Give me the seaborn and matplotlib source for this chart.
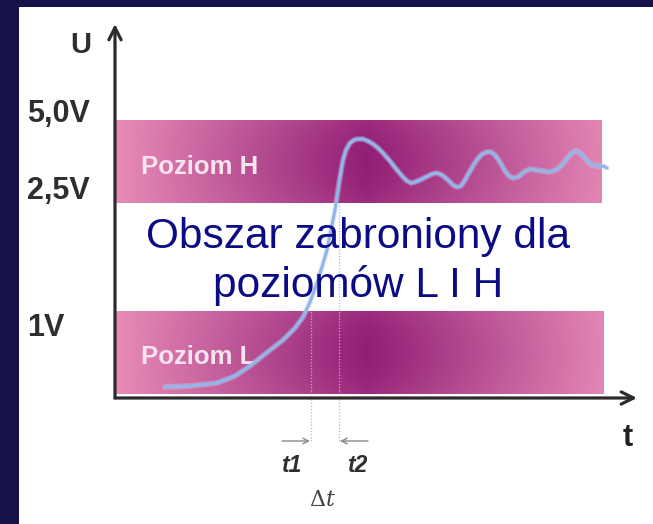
import numpy as np
import pandas as pd
import matplotlib
matplotlib.use("Agg")
import matplotlib.pyplot as plt
import seaborn as sns

# Signal rising from level L to level H (time units, voltage units of the sketch)
t_values = [50, 75, 102, 120, 135, 150, 168, 180, 188, 195, 202, 207, 212, 216, 220,
            223, 225, 228, 231, 235, 239, 243, 248, 253, 258, 263, 268,
            275, 282, 288, 292, 296, 300, 305, 311, 317, 322, 327, 333, 338, 342, 346,
            350, 355, 361, 367, 372, 376, 380, 385, 390, 394, 398, 403, 409, 415, 421,
            428, 435, 441, 446, 451, 456, 460, 464, 468, 473, 478, 483, 488, 492]
u_values = [11, 12, 15, 22, 32, 44, 58, 70, 81, 96, 115, 131, 148, 168, 188,
            208, 221, 238, 248, 255, 258, 259, 259, 257, 254, 250, 245,
            237, 228, 221, 217, 215, 216, 218, 221, 224, 225, 223, 218, 213, 211, 212,
            218, 227, 237, 244, 246, 246, 243, 236, 227, 222, 220, 221, 226, 229, 228,
            227, 226, 228, 232, 238, 244, 247, 246, 242, 236, 233, 232, 232, 230]

# Logic level bands
band_names = ["Poziom H", "Poziom L"]
band_bottom = [195, 4]
band_top = [278, 87]
band_end = [487, 489]

# Voltage labels on the U axis
level_labels = ["5,0V", "2,5V", "1V"]
level_positions = [284, 207, 70]

# Switching instants
t1_pos, t2_pos = 196, 224

sns.set_theme(style="white")
plt.rcParams["font.family"] = ["Liberation Sans", "DejaVu Sans"]

fig = plt.figure(figsize=(6.53, 5.24), dpi=100, facecolor="#15134a")

# White sheet behind the diagram
bg = fig.add_axes([19 / 653, 0, 1 - 19 / 653, 517 / 524])
bg.axis("off")
bg.add_patch(plt.Rectangle((0, 0), 1, 1, transform=bg.transAxes,
                           facecolor="white", edgecolor="none"))

ax = fig.add_axes([0, 0, 1, 1])
ax.patch.set_alpha(0)

# Gradient fill for the level bands: pink at the edges, deep magenta in the middle
pink = np.array([0.91, 0.55, 0.72])
dark = np.array([0.57, 0.12, 0.46])
for b0, b1, end in zip(band_bottom, band_top, band_end):
    nx, ny = 400, 60
    xs = np.linspace(0, end, nx)
    center = 252
    f = np.clip(np.abs(xs - center) / max(center, end - center), 0, 1) ** 1.05
    v = np.linspace(-1, 1, ny)[:, None]
    shade = f[None, :] + 0.12 * (v ** 2) * (1 - f[None, :])
    shade = np.clip(shade, 0, 1)
    img = dark + (pink - dark) * shade[..., None]
    ax.imshow(img, extent=(0, end, b0, b1), origin="lower", aspect="auto",
              zorder=1, interpolation="bilinear")

for name, b0, b1 in zip(band_names, band_bottom, band_top):
    ax.text(26, (b0 + b1) / 2 - 5, name, color="#f7e4ef", fontsize=18.5,
            fontweight="bold", ha="left", va="center", zorder=3)

# Signal trace
df = pd.DataFrame({"t": t_values, "U": u_values})
sns.lineplot(data=df, x="t", y="U", ax=ax, sort=False, estimator=None,
             color="#c3d4f4", linewidth=4.2, alpha=0.35, zorder=4)
sns.lineplot(data=df, x="t", y="U", ax=ax, sort=False, estimator=None,
             color="#93b6e8", linewidth=2.3, zorder=5)
ax.set_xlim(-115, 538)
ax.set_ylim(-126, 398)
ax.axis("off")

# Axes with arrow heads
ax.annotate("", xy=(0, 374), xytext=(0, 0),
            arrowprops=dict(arrowstyle="->", lw=2.3, color="#2d2a2e",
                            mutation_scale=22, shrinkA=0, shrinkB=0), zorder=6)
ax.annotate("", xy=(522, 0), xytext=(0, 0),
            arrowprops=dict(arrowstyle="->", lw=2.3, color="#2d2a2e",
                            mutation_scale=22, shrinkA=0, shrinkB=0), zorder=6)

ax.text(-34, 353, "U", fontsize=21, fontweight="bold", color="#2e2e2e",
        ha="center", va="center")
for lab, pos in zip(level_labels, level_positions):
    ax.text(-88, pos, lab, fontsize=22, fontweight="bold", color="#2e2e2e",
            ha="left", va="center")
ax.text(513, -40, "t", fontsize=22, fontweight="bold", color="#222222",
        ha="center", va="center")

# Transition window markers
ax.plot([t1_pos, t1_pos], [-43, 88], color="#b8b8b8", lw=0.9, ls=(0, (1, 1.5)), zorder=2)
ax.plot([t2_pos, t2_pos], [-43, 195], color="#b8b8b8", lw=0.9, ls=(0, (1, 1.5)), zorder=2)
ax.annotate("", xy=(t1_pos - 1, -43), xytext=(t1_pos - 29, -43),
            arrowprops=dict(arrowstyle="->", lw=1.0, color="#8a8a8a",
                            mutation_scale=10, shrinkA=0, shrinkB=0))
ax.annotate("", xy=(t2_pos + 1, -43), xytext=(t2_pos + 29, -43),
            arrowprops=dict(arrowstyle="->", lw=1.0, color="#8a8a8a",
                            mutation_scale=10, shrinkA=0, shrinkB=0))
ax.text(t1_pos - 20, -68, "t1", fontsize=16.5, fontweight="bold", style="italic",
        color="#2e2e2e", ha="center", va="center")
ax.text(t2_pos + 18, -68, "t2", fontsize=16.5, fontweight="bold", style="italic",
        color="#2e2e2e", ha="center", va="center")
ax.text(208, -102, r"$\Delta t$", fontsize=16, math_fontfamily="dejavuserif",
        color="#444444", ha="center", va="center")

# Forbidden zone caption
ax.text(243, 150, "Obszar zabroniony dla", fontsize=30.5, color="#0b0b85",
        ha="center", va="baseline", zorder=7)
ax.text(243, 101, "poziomów L I H", fontsize=30.5, color="#0b0b85",
        ha="center", va="baseline", zorder=7)

fig.savefig("out.png", dpi=100, facecolor=fig.get_facecolor())
